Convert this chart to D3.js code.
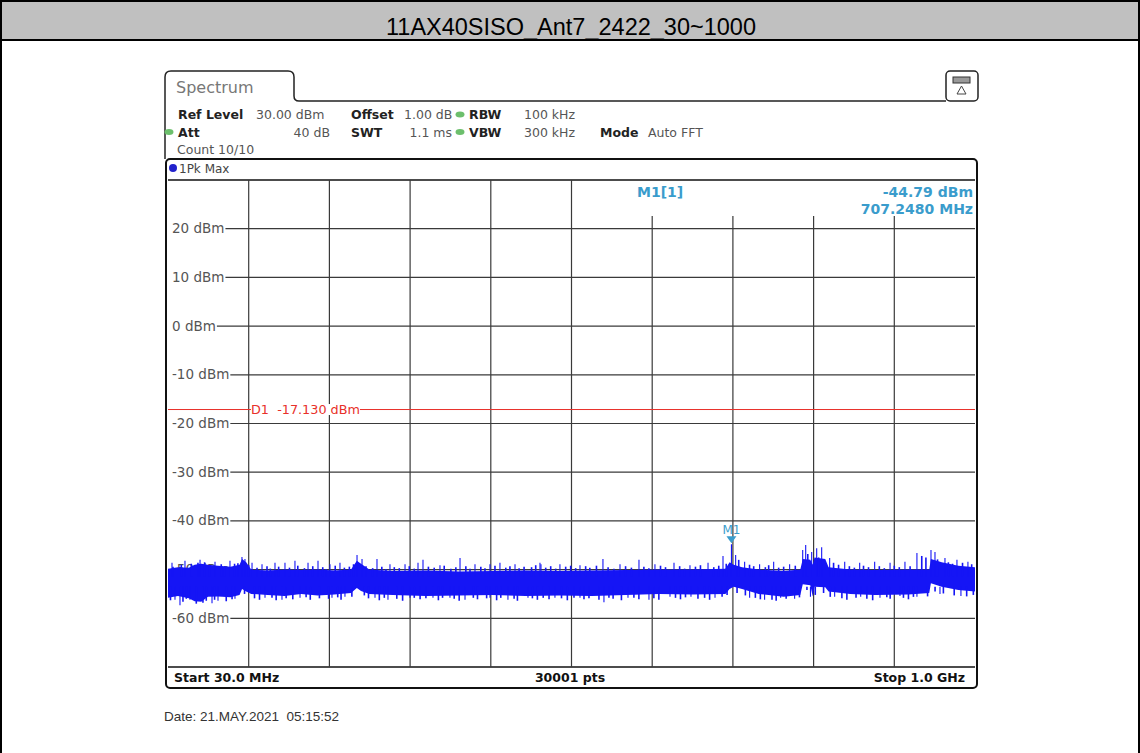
<!DOCTYPE html>
<html>
<head>
<meta charset="utf-8">
<script src="https://cdn.jsdelivr.net/npm/d3@7"></script>
<style>
  body { margin: 0; background: #fff; }
  svg { display: block; }
  .inst { font-family: "DejaVu Sans", sans-serif; }
</style>
</head>
<body>
<svg id="svg1" width="1140" height="753"></svg>
<script>
var width = 1140, height = 753;

// sweep settings
var startMHz = 30, stopMHz = 1000;
var refLevel = 30, bottomLevel = -70;
var yTicks = [20, 10, 0, -10, -20, -30, -40, -50, -60];
var displayLine = -17.13;
var marker = { freq: 707.248, level: -44.79 };

// trace envelope (MHz, upper dBm, lower dBm)
var envFreq  = [30, 42, 55, 62, 70, 78, 90, 105, 116, 119, 124, 130, 150, 170, 190, 210, 230, 250, 257, 262, 272,
                300, 340, 380, 420, 460, 500, 540, 580, 620, 660, 700, 705, 710, 720, 740, 770, 790, 793, 802, 805,
                807, 820, 824, 850, 880, 920, 945, 947, 960, 980, 1000];
var envUpper = [-49.8, -49.5, -49.6, -49.0, -48.8, -49.0, -49.2, -49.4, -49.0, -47.8, -48.5, -50.0, -50.2, -50.0, -50.1, -50.0, -50.2, -50.0, -48.2, -48.8, -50.0,
                -50.3, -50.2, -50.4, -50.3, -50.2, -50.3, -50.2, -50.1, -50.0, -50.0, -49.8, -48.5, -49.0, -49.5, -50.0, -50.3, -50.0, -47.8, -48.0, -49.0,
                -47.5, -47.8, -49.5, -50.0, -50.1, -50.0, -50.0, -47.8, -48.5, -49.2, -49.5];
var envLower = [-55.8, -55.4, -55.9, -56.5, -56.6, -55.6, -55.5, -55.7, -55.2, -54.0, -54.5, -55.0, -55.2, -55.4, -55.0, -55.3, -55.1, -54.8, -53.8, -54.4, -55.0,
                -55.2, -55.4, -55.3, -55.2, -55.4, -55.3, -55.4, -55.2, -55.0, -55.1, -55.0, -54.0, -53.5, -54.0, -55.0, -55.6, -55.2, -53.0, -53.2, -55.5,
                -53.5, -53.6, -54.5, -55.0, -55.2, -55.1, -54.8, -52.8, -53.5, -54.2, -54.5];

// tall peaks sticking out of the band (MHz, dBm)
var upFreq  = [34.8, 50.4, 68.5, 86.5, 104.5, 118.9, 122.5, 131.0, 143.0, 158.6, 170.6, 182.6, 198.3, 210.3, 224.7, 236.7, 257.2, 263.2,
               281.2, 296.8, 314.9, 330.5, 336.5, 356.9, 381.0, 399.0, 417.0, 429.0, 447.1, 477.1, 478.3, 501.1, 525.2, 552.8, 573.3, 596.1,
               615.3, 638.2, 657.4, 679.1, 697.1, 707.25, 712.3, 723.1, 741.1, 758.0, 777.2, 792.9, 796.5, 803.7, 809.7, 815.7, 825.3, 843.4,
               861.4, 879.4, 897.9, 915.8, 930.2, 947.1, 951.9, 963.9, 978.3, 991.5];
var upLevel = [-48.6, -48.2, -48.0, -48.4, -48.2, -47.4, -47.8, -48.6, -48.9, -48.6, -48.6, -48.2, -48.6, -48.2, -48.9, -48.6, -47.0, -47.8,
               -47.8, -48.9, -48.9, -48.6, -48.0, -49.1, -47.6, -48.9, -48.9, -48.6, -48.9, -48.6, -48.9, -48.9, -49.1, -47.8, -48.9, -48.0,
               -48.9, -48.6, -49.1, -48.6, -47.2, -44.79, -47.0, -48.4, -48.9, -48.4, -48.9, -46.0, -44.95, -46.4, -45.6, -45.4, -47.6, -48.4,
               -48.6, -48.4, -48.6, -48.4, -46.6, -46.0, -46.4, -47.6, -48.0, -48.4];
var downFreq  = [38.4, 44.4, 56.4, 82.9, 90.1, 110.5, 146.6, 167.0, 188.7, 227.1, 242.7, 278.8, 294.4, 320.9, 348.5, 368.9, 387.0, 417.0,
                 438.6, 462.7, 495.1, 525.2, 554.0, 582.9, 608.1, 633.4, 658.6, 687.5, 729.1, 747.1, 766.4, 783.2, 802.2, 831.3, 862.6, 885.8,
                 909.8, 930.2, 957.9, 983.1];
var downLevel = [-56.2, -57.3, -56.2, -56.9, -56.4, -56.0, -55.8, -56.2, -55.8, -55.8, -55.6, -55.8, -56.2, -55.8, -55.8, -55.8, -56.2, -55.8,
                 -56.2, -55.8, -55.8, -55.8, -56.7, -55.8, -56.2, -55.6, -55.6, -55.8, -55.8, -56.2, -55.8, -56.0, -55.6, -55.6, -55.6, -55.8,
                 -55.4, -55.6, -55.0, -55.4];

// small ragged excursions along the band edges (MHz, dBm)
var minorUpFreq = [36, 46, 58, 66, 74, 80, 94, 98, 110, 114, 127, 137, 149, 153, 163, 176, 186, 194, 204, 216, 220, 231, 242, 248, 253,
                   268, 276, 287, 292, 302, 308, 320, 326, 343, 350, 362, 370, 376, 388, 393, 406, 411, 423, 436, 441, 452, 458, 467, 472,
                   484, 490, 496, 508, 514, 520, 532, 537, 545, 559, 566, 580, 587, 602, 608, 622, 628, 645, 651, 664, 670, 686, 692, 701,
                   716, 729, 734, 748, 752, 764, 770, 784, 799, 812, 830, 836, 849, 855, 866, 872, 885, 891, 903, 909, 922, 936, 941, 955,
                   968, 973, 985, 996];
var minorUpLevel = [-49.4, -49.0, -48.8, -48.6, -48.5, -49.2, -48.9, -49.3, -48.8, -48.7, -49.1, -49.6, -49.3, -49.8, -49.4, -49.6, -49.2, -49.7,
                    -49.3, -49.5, -49.9, -49.2, -49.6, -49.4, -48.9, -49.3, -49.7, -49.4, -49.9, -49.5, -49.7, -49.3, -49.8, -49.4, -49.6,
                    -49.2, -49.8, -49.5, -49.3, -49.8, -49.4, -49.7, -49.2, -49.6, -49.3, -49.7, -49.4, -49.5, -49.1, -49.6, -49.3, -49.8,
                    -49.4, -49.2, -49.7, -49.3, -49.6, -49.2, -49.5, -49.8, -49.3, -49.6, -49.4, -49.7, -49.2, -49.5, -49.3, -49.8, -49.4,
                    -49.1, -49.5, -49.2, -48.8, -48.0, -49.0, -49.3, -49.5, -49.1, -49.6, -49.4, -49.2, -46.8, -47.5, -48.6, -49.0, -49.3,
                    -49.6, -49.2, -49.5, -49.3, -49.7, -49.2, -49.5, -49.3, -47.2, -47.5, -47.9, -48.5, -48.8, -48.6, -48.9];
var minorDownFreq = [33, 48, 52, 64, 72, 76, 86, 100, 107, 122, 134, 140, 155, 160, 172, 180, 196, 201, 212, 223, 234, 238, 251, 266, 271,
                     284, 290, 305, 312, 326, 333, 340, 355, 360, 374, 380, 397, 402, 413, 425, 430, 446, 450, 468, 474, 481, 488, 503, 510,
                     518, 530, 536, 548, 560, 565, 575, 590, 596, 614, 620, 640, 646, 652, 667, 675, 681, 696, 702, 714, 724, 736, 742, 756,
                     761, 773, 789, 798, 808, 818, 826, 840, 846, 857, 870, 877, 894, 898, 914, 920, 926, 943, 952, 962, 975, 990, 998];
var minorDownLevel = [-56.3, -56.6, -56.0, -57.0, -56.8, -56.4, -56.2, -56.5, -56.1, -55.0, -55.9, -56.2, -55.8, -56.3, -55.9, -56.1, -55.7,
                      -56.2, -55.9, -56.0, -55.7, -56.2, -55.6, -55.3, -55.9, -56.3, -55.8, -56.0, -56.4, -55.8, -56.1, -55.9, -56.3, -55.8,
                      -56.0, -56.4, -55.8, -56.1, -55.9, -56.3, -55.8, -56.0, -56.4, -55.9, -56.2, -55.8, -56.1, -55.9, -56.3, -55.8, -56.1,
                      -55.9, -56.2, -55.8, -56.0, -56.3, -55.8, -56.1, -55.9, -56.2, -55.8, -56.1, -55.7, -56.0, -55.8, -56.2, -55.6, -55.2,
                      -54.8, -55.3, -55.8, -56.1, -56.2, -56.4, -56.0, -55.7, -54.2, -55.2, -54.8, -55.6, -55.9, -56.2, -55.8, -56.0, -56.3,
                      -55.7, -56.0, -55.8, -56.1, -55.6, -55.5, -54.5, -54.9, -55.3, -55.5, -55.2];

var headerRows = [
  [{t: "Ref Level", x: 178, b: true}, {t: "30.00 dBm", x: 256}, {t: "Offset", x: 351, b: true}, {t: "1.00 dB", x: 404},
   {t: "RBW", x: 469, b: true}, {t: "100 kHz", x: 524}],
  [{t: "Att", x: 178, b: true}, {t: "40 dB", x: 330, a: "end"}, {t: "SWT", x: 351, b: true}, {t: "1.1 ms", x: 452, a: "end"},
   {t: "VBW", x: 469, b: true}, {t: "300 kHz", x: 524}, {t: "Mode", x: 600, b: true}, {t: "Auto FFT", x: 648}],
  [{t: "Count 10/10", x: 177}]
];

var svg = d3.select('#svg1');

var scaleX = d3.scaleLinear().domain([startMHz, stopMHz]).range([168, 975]);
var scaleY = d3.scaleLinear().domain([bottomLevel, refLevel]).range([667, 180]);

// outer report box + title bar
svg.append('rect').attr('x', 1).attr('y', 1).attr('width', 1138).attr('height', 39)
    .attr('fill', '#c0c0c0');
svg.append('path').attr('d', 'M1,753 V1 H1139 V753 M1,40 H1139')
    .attr('fill', 'none').attr('stroke', '#000').attr('stroke-width', 2);
svg.append('text').attr('x', 571).attr('y', 35).attr('text-anchor', 'middle')
    .style('font-family', '"Liberation Sans", Arial, sans-serif').style('font-size', '23.5px')
    .text('11AX40SISO_Ant7_2422_30~1000');

// instrument tab and top line
svg.append('path')
    .attr('d', 'M165,159 V77 Q165,71 171,71 H288 Q294,71 294,77 V96 Q294,101 299,101 H946')
    .attr('fill', 'none').attr('stroke', '#222').attr('stroke-width', 1.5);
svg.append('text').attr('class', 'inst').attr('x', 176).attr('y', 93)
    .style('font-size', '16px').attr('fill', '#777').text('Spectrum');
svg.append('rect').attr('x', 946).attr('y', 71).attr('width', 32).attr('height', 30).attr('rx', 4)
    .attr('fill', '#fff').attr('stroke', '#222').attr('stroke-width', 1.5);
svg.append('rect').attr('x', 953).attr('y', 77).attr('width', 17).attr('height', 6)
    .attr('fill', '#999').attr('stroke', '#333');
svg.append('path').attr('d', 'M961.5,86 L957,94 H966 Z').attr('fill', 'none').attr('stroke', '#444');

// settings text
headerRows.forEach(function(row, i) {
    svg.selectAll('.hdr' + i).data(row).enter().append('text')
        .attr('class', 'inst hdr' + i)
        .attr('x', function(d) { return d.x; })
        .attr('y', 119 + i * 17.5)
        .attr('text-anchor', function(d) { return d.a || 'start'; })
        .style('font-size', '12.5px')
        .style('font-weight', function(d) { return d.b ? 'bold' : 'normal'; })
        .attr('fill', function(d) { return d.b ? '#222' : '#555'; })
        .text(function(d) { return d.t; });
});
[[460, 114.5], [460, 132], [169, 132]].forEach(function(p) {
    svg.append('ellipse').attr('cx', p[0]).attr('cy', p[1]).attr('rx', 4.5).attr('ry', 3).attr('fill', '#6cbf6c');
});

// plot frame
svg.append('rect').attr('x', 166).attr('y', 159).attr('width', 811).attr('height', 529).attr('rx', 4)
    .attr('fill', '#fff').attr('stroke', '#111').attr('stroke-width', 2);
svg.append('circle').attr('cx', 173).attr('cy', 168).attr('r', 4).attr('fill', '#2222cc');
svg.append('text').attr('class', 'inst').attr('x', 179).attr('y', 172.5)
    .style('font-size', '12px').attr('fill', '#444').text('1Pk Max');

// grid
var grid = svg.append('g');
var hLevels = d3.range(bottomLevel, refLevel + 1, 10);
grid.selectAll('.hgrid').data(hLevels).enter().append('line')
    .attr('x1', 168).attr('x2', 975)
    .attr('y1', function(d) { return scaleY(d); }).attr('y2', function(d) { return scaleY(d); })
    .attr('stroke', function(d) { return (d === bottomLevel || d === refLevel) ? '#111' : '#3a3a3a'; })
    .attr('stroke-width', function(d) { return (d === bottomLevel || d === refLevel) ? 1.6 : 1.2; });
var vFreqs = d3.range(1, 10).map(function(i) { return startMHz + i * (stopMHz - startMHz) / 10; });
grid.selectAll('.vgrid').data(vFreqs).enter().append('line')
    .attr('x1', function(d) { return scaleX(d); }).attr('x2', function(d) { return scaleX(d); })
    .attr('y1', function(d, i) { return i >= 5 ? 216 : 180; }).attr('y2', 667)
    .attr('stroke', '#3a3a3a').attr('stroke-width', 1.2);

// y labels with white background
var yl = svg.selectAll('.ylab').data(yTicks).enter().append('g');
yl.append('text').attr('class', 'inst')
    .attr('x', 172).attr('y', function(d) { return scaleY(d) + 4.5; })
    .style('font-size', '13.5px').attr('fill', '#555')
    .text(function(d) { return d + ' dBm'; })
    .each(function() {
        var bb = this.getBBox();
        d3.select(this.parentNode).insert('rect', 'text')
            .attr('x', 168).attr('y', bb.y + 1).attr('width', bb.x + bb.width + 1 - 168).attr('height', bb.height - 2)
            .attr('fill', '#fff');
    });

// display line D1
svg.append('line').attr('x1', 168).attr('x2', 975)
    .attr('y1', scaleY(displayLine)).attr('y2', scaleY(displayLine))
    .attr('stroke', '#e8302a').attr('stroke-width', 1);
var d1g = svg.append('g');
var d1bg = d1g.append('rect');
var d1 = d1g.append('text').attr('class', 'inst').attr('x', 251).attr('y', scaleY(displayLine) + 4.5)
    .style('font-size', '12.8px').style('white-space', 'pre').attr('fill', '#e8302a').text('D1  -17.130 dBm');
var d1bb = d1.node().getBBox();
d1bg.attr('x', d1bb.x).attr('y', d1bb.y + 2)
    .attr('width', d1bb.width).attr('height', d1bb.height - 4).attr('fill', '#fff');

// trace
var traceColor = '#1515f5';
var envData = envFreq.map(function(f, i) { return { f: f, hi: envUpper[i], lo: envLower[i] }; });
var area = d3.area()
    .x(function(d) { return scaleX(d.f); })
    .y0(function(d) { return scaleY(d.lo); })
    .y1(function(d) { return scaleY(d.hi); });
svg.append('path').datum(envData).attr('d', area).attr('fill', traceColor);

function spikes(freqs, levels, base, w) {
    svg.append('g').selectAll('line').data(freqs).enter().append('line')
        .attr('x1', function(d) { return scaleX(d); }).attr('x2', function(d) { return scaleX(d); })
        .attr('y1', scaleY(base)).attr('y2', function(d, i) { return scaleY(levels[i]); })
        .attr('stroke', traceColor).attr('stroke-width', w);
}
spikes(minorUpFreq, minorUpLevel, -51.5, 1.6);
spikes(minorDownFreq, minorDownLevel, -53.5, 1.6);
spikes(upFreq, upLevel, -51.5, 1.1);
spikes(downFreq, downLevel, -53.5, 1.1);

// marker M1
var mColor = '#3a9ccc';
var mx = scaleX(marker.freq), my = scaleY(marker.level);
svg.append('path').attr('d', 'M' + (mx - 5) + ',' + (my - 8) + ' H' + (mx + 5) + ' L' + mx + ',' + (my - 1) + ' Z')
    .attr('fill', mColor);
svg.append('text').attr('class', 'inst').attr('x', mx).attr('y', my - 10).attr('text-anchor', 'middle')
    .style('font-size', '12px').attr('fill', mColor).text('M1');

svg.append('text').attr('class', 'inst').attr('x', 637).attr('y', 197)
    .style('font-size', '14px').style('font-weight', 'bold').attr('fill', mColor).text('M1[1]');
svg.append('text').attr('class', 'inst').attr('x', 973).attr('y', 197).attr('text-anchor', 'end')
    .style('font-size', '14px').style('font-weight', 'bold').attr('fill', mColor).text('-44.79 dBm');
svg.append('text').attr('class', 'inst').attr('x', 973).attr('y', 214).attr('text-anchor', 'end')
    .style('font-size', '14px').style('font-weight', 'bold').attr('fill', mColor).text('707.2480 MHz');

// bottom bar
var foot = [{t: 'Start 30.0 MHz', x: 174, a: 'start'}, {t: '30001 pts', x: 570, a: 'middle'}, {t: 'Stop 1.0 GHz', x: 965, a: 'end'}];
svg.selectAll('.foot').data(foot).enter().append('text').attr('class', 'inst')
    .attr('x', function(d) { return d.x; }).attr('y', 682)
    .attr('text-anchor', function(d) { return d.a; })
    .style('font-size', '12.5px').style('font-weight', 'bold').attr('fill', '#111')
    .text(function(d) { return d.t; });

// date
svg.append('text').attr('x', 164).attr('y', 721)
    .style('font-family', '"Liberation Sans", Arial, sans-serif').style('font-size', '13.5px')
    .style('white-space', 'pre').attr('fill', '#333')
    .text('Date: 21.MAY.2021  05:15:52');
</script>
</body>
</html>
